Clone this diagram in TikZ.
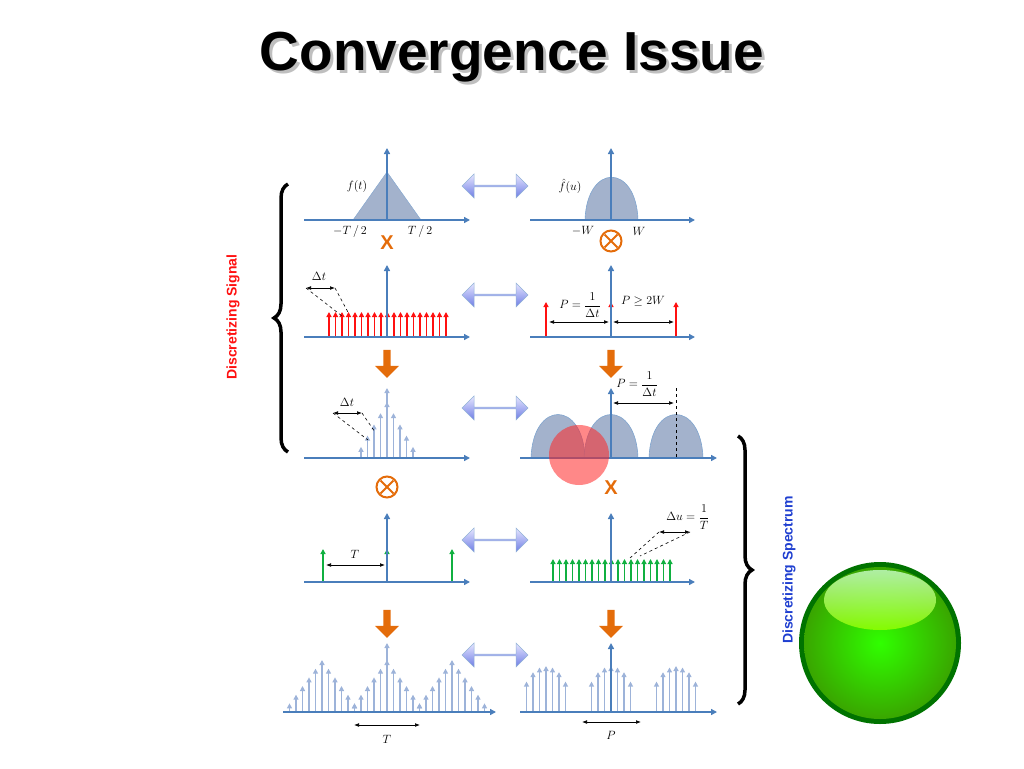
\documentclass[tikz,border=0pt]{standalone}
\usepackage{fontspec}
\setmainfont{Liberation Sans}
\usepackage{amsmath,amssymb}
\usetikzlibrary{arrows.meta,shapes.arrows,calc,decorations.pathreplacing}
\definecolor{ax}{HTML}{4A7EBB}
\definecolor{fl}{HTML}{A3B2CC}
\definecolor{lt}{HTML}{9DB3D9}
\definecolor{rd}{HTML}{FF1010}
\definecolor{gr}{HTML}{10B040}
\definecolor{org}{HTML}{E46C0A}
\definecolor{bl}{HTML}{1F3FD0}
\tikzset{
 axis/.style={ax,line width=1.5pt,-{Triangle[length=6pt,width=6pt]}},
 dom/.style={fill=fl,draw=ax!70,line width=0.6pt},
 rs/.style={rd,line width=1.3pt,-{Triangle[length=5pt,width=5pt]}},
 gs/.style={gr,line width=1.3pt,-{Triangle[length=5pt,width=5pt]}},
 ls/.style={lt,line width=1.3pt,-{Triangle[length=5pt,width=5pt]}},
 dim/.style={black,line width=0.7pt,{Latex[length=5pt]}-{Latex[length=5pt]}},
 dsh/.style={black,dashed,line width=0.6pt},
 lab/.style={font=\fontsize{12}{14}\selectfont},
 dbl/.style={double arrow,draw=ax!60,top color=blue!10,bottom color=blue!30!lt,minimum width=24pt,minimum height=66pt,double arrow head extend=3pt,inner sep=0pt,line width=0.5pt},
 dn/.style={single arrow,fill=org,minimum width=24pt,minimum height=28pt,single arrow head extend=5pt,shape border rotate=270,inner sep=2pt},
 ox/.style={org,font=\bfseries\fontsize{20}{20}\selectfont},
 ot/.style={circle,draw=org,line width=2pt,minimum size=21pt,inner sep=0pt,path picture={\draw[org,line width=2pt] ($(path picture bounding box.north west)+(4pt,-4pt)$)--($(path picture bounding box.south east)+(-4pt,4pt)$);\draw[org,line width=2pt] ($(path picture bounding box.north east)+(-4pt,-4pt)$)--($(path picture bounding box.south west)+(4pt,4pt)$);}},
 brc/.style={decorate,decoration={brace,amplitude=14pt},line width=3.5pt}
}
\begin{document}
\begin{tikzpicture}[x=1pt,y=-1pt]
\useasboundingbox (0,0) rectangle (1024,768);
% title
\node[font=\bfseries\fontsize{55}{60}\selectfont,text=gray!50] (titleshadow) at (515,60) {Convergence Issue};
\node[font=\bfseries\fontsize{55}{60}\selectfont] (title) at (512,57) {Convergence Issue};
% ---- row 1
\fill[fl,draw=ax!70] (353,220)--(387,172)--(421,220)--cycle;
\draw[axis] (304,220)--(470,220);
\draw[axis] (387,220)--(387,148);
\node[lab] at (357,186) {$f(t)$};
\node[lab] at (350,231) {$-T\,/\,2$};
\node[lab] at (420,231) {$T\,/\,2$};
\node[ox] at (387,243) {X};
\draw[dom] (585,220) .. controls (587,163) and (636,163) .. (638,220);
\draw[axis] (530,220)--(695,220);
\draw[axis] (611,220)--(611,148);
\node[lab] at (570,186) {$\hat f(u)$};
\node[lab] at (583,231) {$-W$};
\node[lab] at (639,231) {$W$};
\node[ot] at (611,241) {};
% ---- row 2
\foreach \i in {0,...,18}{\draw[rs] (329+6.5*\i,337)--(329+6.5*\i,312);}
\draw[axis] (304,337)--(470,337);
\draw[axis] (387,337)--(387,265);
\draw[dim] (306,288)--(335,288);
\node[lab] at (319,276) {$\Delta t$};
\draw[dsh] (306,288)--(342,316);
\draw[dsh] (335,288)--(349,314);
\foreach \x in {546,611,676}{\draw[rs] (\x,337)--(\x,302);}
\draw[axis] (530,337)--(695,337);
\draw[axis] (611,337)--(611,265);
\draw[dim] (549,322)--(609,322);
\draw[dim] (613,322)--(674,322);
\node[lab] at (580,305) {$P=\dfrac{1}{\Delta t}$};
\node[lab] at (643,301) {$P\geq 2W$};
% ---- row 3
\foreach \i in {-4,...,4}{\pgfmathsetmacro\h{56*(1-abs(\i)/5)}\draw[ls] (387+6.5*\i,458)--(387+6.5*\i,458-\h);}
\draw[ls] (387,458)--(387,388);
\draw[axis] (304,458)--(470,458);
\draw[dim] (333,413)--(362,413);
\node[lab] at (347,402) {$\Delta t$};
\draw[dsh] (333,413)--(368,440);
\draw[dsh] (362,413)--(375,432);
\foreach \c in {558,611,676}{\draw[dom] (\c-27,458) .. controls (\c-25,400) and (\c+25,400) .. (\c+27,458);}
\draw[axis] (520,458)--(717,458);
\draw[axis] (611,458)--(611,388);
\draw[dsh] (676,388)--(676,458);
\draw[dim] (613,403)--(674,403);
\node[lab] at (637,384) {$P=\dfrac{1}{\Delta t}$};
\fill[red!85!white,opacity=0.55] (579,455) circle (30);
\node[ot] at (387,487) {};
\node[ox] at (611,488) {X};
% ---- row 4
\foreach \x in {323,387,452}{\draw[gs] (\x,582)--(\x,549);}
\draw[axis] (304,582)--(470,582);
\draw[axis] (387,582)--(387,513);
\draw[dim] (326,565)--(385,565);
\node[lab] at (355,554) {$T$};
\foreach \i in {0,...,18}{\draw[gs] (553+6.5*\i,582)--(553+6.5*\i,559);}
\draw[axis] (530,582)--(695,582);
\draw[axis] (611,582)--(611,513);
\draw[dim] (659,532)--(690,532);
\node[lab] at (688,517) {$\Delta u=\dfrac{1}{T}$};
\draw[dsh] (659,532)--(630,558);
\draw[dsh] (690,532)--(640,556);
% ---- row 5
\foreach \c in {322,387,452}{\foreach \i in {-5,...,5}{\pgfmathsetmacro\h{52*(1-abs(\i)/6)}\draw[ls] (\c+6.5*\i,712)--(\c+6.5*\i,712-\h);}}
\draw[ls] (387,712)--(387,643);
\draw[axis] (283,712)--(496,712);
\draw[dim] (354,725)--(420,725);
\node[lab] at (387,739) {$T$};
\foreach \c in {546,611,676}{\foreach \i in {-3,...,3}{\pgfmathsetmacro\h{46*sqrt(1-(\i/4)^2)}\draw[ls] (\c+6.5*\i,712)--(\c+6.5*\i,712-\h);}}
\draw[axis] (611,712)--(611,643);
\draw[axis] (520,712)--(717,712);
\draw[dim] (582,722)--(641,722);
\node[lab] at (611,735) {$P$};
% ---- transform arrows
\foreach \y in {186,295,408,540,655}{\node[dbl] at (495,\y) {};}
\foreach \x/\y in {387/362,611/362,387/622,611/622}{\node[dn] at (\x,\y) {};}
% ---- braces
\draw[brc] (288,452)--(288,184);
\node[rotate=90,text=rd,font=\bfseries\fontsize{14}{14}\selectfont] at (233,317) {Discretizing Signal};
\draw[brc] (738,436)--(738,704);
\node[rotate=90,text=bl,font=\bfseries\fontsize{14}{14}\selectfont] at (789,570) {Discretizing Spectrum};
% ---- green ball
\fill[green!45!black] (880,643) circle (81);
\shade[inner color=green!75!lime,outer color=green!50!black!70!lime] (880,643) circle (76);
\shade[top color=white!80!green,bottom color=lime!80!green,opacity=0.8] (880,600) ellipse (56 and 30);
\end{tikzpicture}
\end{document}
